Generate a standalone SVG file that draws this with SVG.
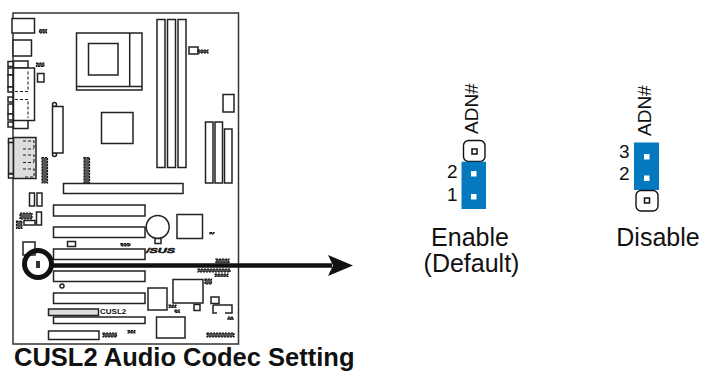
<svg xmlns="http://www.w3.org/2000/svg" width="701" height="372" viewBox="0 0 701 372">
<style>
text{font-family:"Liberation Sans",Arial,sans-serif;fill:#111}
.b{fill:#fff;stroke:#222;stroke-width:1.5}
.g{fill:#ddd;stroke:#222;stroke-width:1.5}
.d{fill:none;stroke:#222;stroke-width:1.1;stroke-dasharray:3 2}
.c{fill:#555;stroke:#111;stroke-width:1.2;stroke-dasharray:2 1}
.k{fill:#333}
.j{font-size:19px}
.l{font-size:25px;text-anchor:middle}
.blue{fill:#0479bf}
.pw{fill:#fff}
.cap{fill:#fff;stroke:#111;stroke-width:1.4}
</style>
<rect width="701" height="372" fill="#fff"/>
<g id="board">
<rect x="13" y="13" width="225.500" height="331" fill="#fff" stroke="#333" stroke-width="1.500"/>
<rect class="b" x="12" y="18.500" width="22.500" height="14.500"/>
<rect class="b" x="13" y="40" width="18.500" height="16"/>
<rect class="c" x="39.500" y="29.500" width="7" height="3.500"/>
<rect class="c" x="36.500" y="63" width="7.500" height="3.500"/>
<rect class="b" x="37.500" y="73.500" width="6.500" height="8.500"/>
<rect class="b" x="13.500" y="61" width="14.500" height="7"/>
<rect class="b" x="13.500" y="120" width="14.500" height="8.500"/>
<rect class="b" x="8" y="61.500" width="5" height="5"/><rect class="b" x="8" y="122" width="5" height="5"/>
<rect class="b" x="8" y="68" width="5" height="7"/><rect class="b" x="8" y="75" width="5" height="12"/><rect class="b" x="8" y="87" width="5" height="5"/><rect class="b" x="8" y="97" width="5" height="5"/><rect class="b" x="8" y="104" width="5" height="10"/><rect class="b" x="8" y="114" width="5" height="6"/>
<rect class="b" x="13.500" y="68" width="21" height="52.500"/>
<path class="d" d="M15 91.500H28V70M15 99.500H28V118"/>
<rect class="b" x="76.500" y="33" width="65.500" height="57"/>
<path class="b" d="M76.500 86.500H142M129.700 33V86.500"/>
<rect class="b" x="88.500" y="43.500" width="29.500" height="31.500"/>
<rect class="b" x="157" y="19.500" width="8" height="148"/><rect class="b" x="167.500" y="19.500" width="8" height="148"/><rect class="b" x="178" y="19.500" width="8" height="148"/>
<rect class="b" x="189" y="47" width="9" height="7"/><rect class="c" x="198" y="50" width="10" height="3"/>
<rect class="b" x="223" y="94.500" width="11" height="17.500"/>
<rect class="b" x="205.500" y="122" width="7.500" height="61"/><rect class="b" x="215" y="122" width="7.500" height="61"/><rect class="b" x="224.500" y="129" width="7.500" height="54"/>
<circle class="b" cx="54.500" cy="104.500" r="2"/><circle class="b" cx="54.500" cy="154.500" r="2"/>
<rect class="b" x="52.500" y="106.500" width="10.500" height="46.500"/>
<rect class="b" x="101.500" y="112.500" width="31.500" height="31"/>
<rect class="b" x="8.500" y="138.500" width="5" height="4"/><rect class="b" x="8.500" y="174" width="5" height="4"/>
<rect class="g" x="8.500" y="142.500" width="5" height="31"/>
<rect class="g" x="13.500" y="137.500" width="22.500" height="41"/>
<path class="d" d="M23 141H34V148M23 149H34M23 155H34V162M23 162.500H34M23 169H34V177H23"/>
<rect class="c" x="42" y="157.500" width="5.500" height="25.500"/><rect class="c" x="84" y="157.500" width="5.500" height="25.500"/>
<rect class="b" x="63.500" y="183.500" width="119.500" height="10"/>
<rect class="b" x="29.500" y="193" width="5" height="13"/><rect class="b" x="37" y="193" width="5" height="13"/>
<rect class="c" x="20" y="213" width="12" height="6"/><rect class="b" x="36.500" y="212" width="5" height="13"/>
<rect class="b" x="24" y="220.500" width="11" height="4.500"/><rect class="c" x="16.500" y="221" width="5.500" height="7.500"/>
<rect class="b" x="53.500" y="205" width="91.500" height="11"/>
<rect class="b" x="53.500" y="227" width="91.500" height="10.500"/>
<rect class="b" x="67.500" y="241.500" width="8" height="5"/>
<rect class="c" x="121" y="243.500" width="9" height="2.500"/>
<rect class="b" x="23" y="242" width="12" height="13"/>
<rect class="b" x="53.500" y="249" width="91.500" height="10.500"/>
<circle class="b" cx="157.700" cy="227" r="11.500"/><rect class="b" x="155" y="238.500" width="6" height="5"/>
<rect class="b" x="177" y="214.500" width="25.500" height="24"/>
<rect class="c" x="210" y="232.500" width="4" height="1.500"/>
<text x="146" y="253" style="font-size:8px;font-weight:bold;font-style:italic;stroke:#111;stroke-width:.5" textLength="29" lengthAdjust="spacingAndGlyphs">/SUS</text>
<rect class="b" x="53.500" y="271" width="91.500" height="10.500"/>
<circle class="b" cx="62" cy="286" r="2"/>
<rect class="b" x="53.500" y="293" width="91.500" height="10.500"/>
<rect class="g" x="48.500" y="309" width="50" height="6.500"/>
<text x="100" y="314" style="font-size:8px;font-weight:bold">CUSL2</text>
<rect class="b" x="53.500" y="317" width="91.500" height="6.500"/>
<rect class="b" x="48.500" y="331" width="50.500" height="8.500"/>
<rect class="c" x="103" y="333" width="13.500" height="4"/>
<rect class="b" x="148" y="288" width="19" height="22"/>
<rect class="b" x="173" y="279.500" width="30" height="23.500"/>
<rect class="c" x="216" y="259" width="13" height="4"/>
<rect class="c" x="198" y="269" width="32" height="3"/>
<rect class="c" x="215" y="274" width="13" height="2.500"/>
<rect class="c" x="205" y="279" width="6.500" height="5"/>
<rect class="c" x="169" y="305" width="7" height="2.500"/>
<rect class="c" x="175" y="310" width="4.500" height="2.500"/>
<rect class="b" x="194" y="304.500" width="6" height="6"/>
<rect class="b" x="211" y="297" width="8" height="6.500"/>
<path d="M213 305V313H217M225 313H232V305H213" fill="none" stroke="#222" stroke-width="1.500"/>
<rect class="c" x="228" y="317" width="5" height="2.500"/>
<rect class="b" x="156.500" y="317" width="28.500" height="21"/>
<rect class="c" x="128" y="330.500" width="7" height="2.500"/>
<rect class="c" x="207" y="333" width="27" height="4"/>
</g>
<g id="connectors">
<circle cx="38" cy="264" r="13.500" fill="none" stroke="#111" stroke-width="5"/>
<rect class="k" x="36" y="261" width="4" height="7"/>
<path d="M50 265.500H332" stroke="#111" stroke-width="4.500" fill="none"/>
<path d="M328 255L353 265.500L328 276L333 265.500Z" fill="#111"/>
</g>
<g id="enable">
<text class="j" transform="translate(478 134) rotate(-90)">ADN#</text>
<rect class="cap" x="463.500" y="140.500" width="21.500" height="21" rx="5"/>
<rect x="472" y="149" width="5" height="5" fill="#fff" stroke="#111" stroke-width="1.500"/>
<rect class="blue" x="461.500" y="161.700" width="24.500" height="47.300"/>
<rect class="pw" x="471" y="171" width="5.500" height="5.500"/><rect class="pw" x="471" y="194" width="5.500" height="5.500"/>
<text class="j" x="447" y="178">2</text><text class="j" x="447" y="201">1</text>
<text class="l" x="470" y="246">Enable</text><text class="l" x="471.500" y="272">(Default)</text>
</g>
<g id="disable">
<text class="j" transform="translate(651 136) rotate(-90)">ADN#</text>
<rect class="blue" x="634" y="142.500" width="25" height="47.500"/>
<rect class="pw" x="644" y="154" width="5.500" height="5.500"/><rect class="pw" x="644" y="175.500" width="5.500" height="5.500"/>
<rect class="cap" x="636" y="190.500" width="22" height="20.500" rx="5"/>
<rect x="644.500" y="198" width="5" height="5" fill="#fff" stroke="#111" stroke-width="1.500"/>
<text class="j" x="619" y="158">3</text><text class="j" x="619" y="180">2</text>
<text class="l" x="658" y="246">Disable</text>
</g>
<text id="title" x="14" y="366" style="font-size:25.500px;font-weight:bold">CUSL2 Audio Codec Setting</text>
</svg>
